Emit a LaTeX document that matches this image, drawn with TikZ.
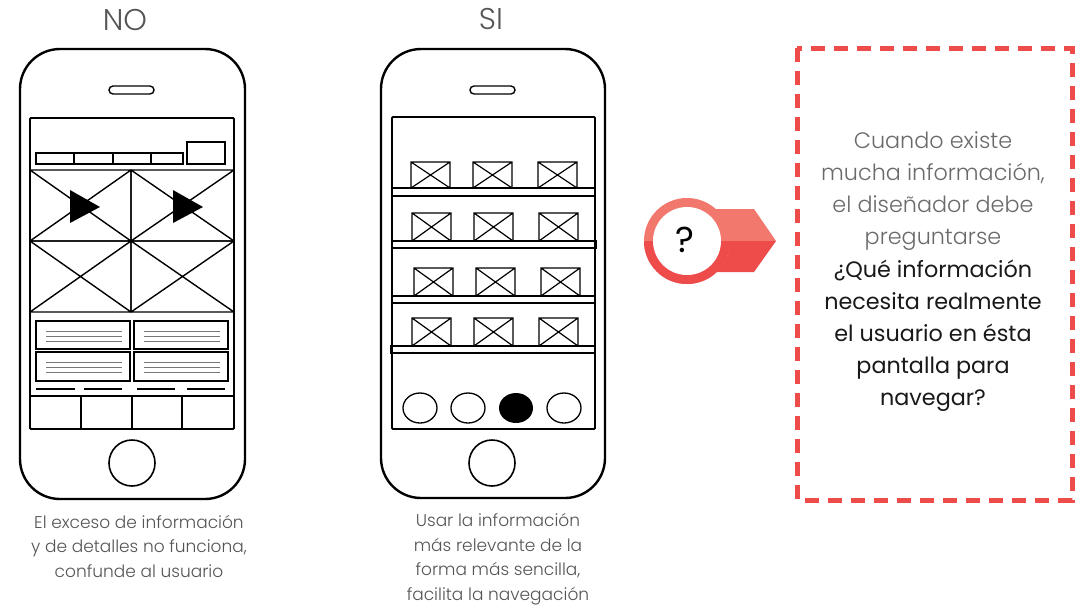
\documentclass[tikz,border=0pt]{standalone}
\usepackage{fontspec}
\setmainfont{Poppins}
\newfontfamily\lightfont{Poppins Light}
\usetikzlibrary{calc}
\definecolor{redA}{HTML}{EE4B4B}
\definecolor{redL}{HTML}{F2776D}
\definecolor{capgray}{HTML}{555555}
\definecolor{boxgray}{HTML}{6A6A6A}
\definecolor{linegray}{HTML}{777777}

% crossed placeholder box: lower-left/upper-right corners
\newcommand\crossbox[4]{%
  \draw[imgline] (#1,#2) rectangle (#3,#4) (#1,#2) -- (#3,#4) (#1,#4) -- (#3,#2);}

\begin{document}
\begin{tikzpicture}[x=1pt,y=-1pt,
  phone/.style={draw=black,line width=2.4pt,rounded corners=40pt},
  screen/.style={draw=black,line width=1.8pt,rounded corners=1pt},
  wire/.style={draw=black,line width=1.4pt},
  imgline/.style={draw=black,line width=1.2pt},
  textline/.style={draw=linegray,line width=0.9pt},
  shelf/.style={draw=black,line width=1.3pt},
  title/.style={font=\lightfont\fontsize{30}{34}\selectfont,text=capgray},
  caption/.style={font=\lightfont\fontsize{17}{24.5}\selectfont,text=capgray,align=center},
  boxlight/.style={font=\lightfont\fontsize{22.3}{32}\selectfont,text=boxgray,align=center},
  boxdark/.style={font=\fontsize{22.3}{32}\selectfont,text=black!90,align=center},
]
\useasboundingbox (0,0) rectangle (1084,606);
\fill[white] (0,0) rectangle (1084,606);

% ---------------- phone 1: cluttered layout ----------------
\draw[phone] (20,49) rectangle (245,499);
\draw[line width=1.4pt,rounded corners=4pt] (109,86) rectangle (154,94);
\draw[screen] (30,118) rectangle (234,429);
\draw[line width=1.6pt] (132,463) circle (23);
% navigation bar
\draw[wire] (36,153) rectangle (183,164);
\draw[wire] (74,153) -- (74,164) (113,153) -- (113,164) (151,153) -- (151,164);
\draw[wire] (187,142) rectangle (225,164);
% media grid
\foreach \xa/\xb in {30/131,131/234}{
  \foreach \ya/\yb in {170/241,241/312}{
    \draw[wire] (\xa,\ya) rectangle (\xb,\yb) (\xa,\ya) -- (\xb,\yb) (\xa,\yb) -- (\xb,\ya);
  }
}
\fill (70,190) -- (100,207) -- (70,223) -- cycle;
\fill (173,190) -- (203,207) -- (173,223) -- cycle;
% text cards
\foreach \xa/\xb in {36/130,134/228}{
  \foreach \ya/\yb in {321/349,352/381}{
    \draw[wire] (\xa,\ya) rectangle (\xb,\yb);
    \foreach \d in {10,15,20}{
      \draw[textline] (\xa+10,\ya+\d) -- (\xb-8,\ya+\d);
    }
  }
}
\draw[wire] (36,389) -- (75,389) (84,389) -- (122,389) (137,389) -- (175,389) (187,389) -- (225,389);
% tab bar
\draw[wire] (30,396) -- (234,396);
\draw[wire] (81,396) -- (81,429) (132,396) -- (132,429) (182,396) -- (182,429);

% ---------------- phone 2: simple layout ----------------
\draw[phone] (381,49) rectangle (605,498);
\draw[line width=1.4pt,rounded corners=4pt] (470,86) rectangle (515,94);
\draw[screen] (392,117) rectangle (595,429);
\draw[line width=1.6pt] (492,463) circle (23);
\foreach \ya/\yb/\dx in {162/188/0,213/241/1,268/296/3,318/346/1}{
  \crossbox{411+\dx}{\ya}{450+\dx}{\yb}
  \crossbox{473+\dx}{\ya}{512+\dx}{\yb}
  \crossbox{538+\dx}{\ya}{577+\dx}{\yb}
}
\draw[shelf] (392,188) rectangle (595,196);
\draw[shelf] (392,241) rectangle (596,248);
\draw[shelf] (392,296) rectangle (595,303);
\draw[shelf] (391,346) rectangle (595,353);
\draw[line width=1.3pt] (420,408) ellipse (17 and 15);
\draw[line width=1.3pt] (468,408) ellipse (17 and 15);
\fill (516,408) ellipse (17 and 15);
\draw[line width=1.3pt] (564,408) ellipse (17 and 15);

% ---------------- titles and captions ----------------
\node[title] (tno) at (125,20) {NO};
\node[title] (tsi) at (491,19) {SI};
\node[caption] (cno) at (139,546) {El exceso de información\\y de detalles no funciona,\\confunde al usuario};
\node[caption] (csi) at (498,559) {Usar la información\\más relevante de la\\forma más sencilla,\\facilita la navegación};

% ---------------- question badge ----------------
\fill[redL] (713,209) -- (754,209) -- (776,241) -- (713,241) -- cycle;
\fill[redA] (713,241) -- (776,241) -- (754,272) -- (713,272) -- cycle;
\fill[redL] (687,241) circle (43);
\begin{scope}
  \clip (640,241) rectangle (735,290);
  \fill[redA] (687,241) circle (43);
\end{scope}
\fill[white] (687,241) circle (34);
\node[font=\fontsize{36}{40}\selectfont] (qmark) at (685,240) {?};

% ---------------- question box ----------------
\draw[redA,line width=5pt,dash pattern=on 14pt off 9pt] (797,48) rectangle (1072,500);
\node[boxlight] (qa) at (933,191) {Cuando existe\\mucha información,\\el diseñador debe\\preguntarse};
\node[boxdark] (qb) at (933,336) {¿Qué información\\necesita realmente\\el usuario en ésta\\pantalla para\\navegar?};
\end{tikzpicture}
\end{document}
